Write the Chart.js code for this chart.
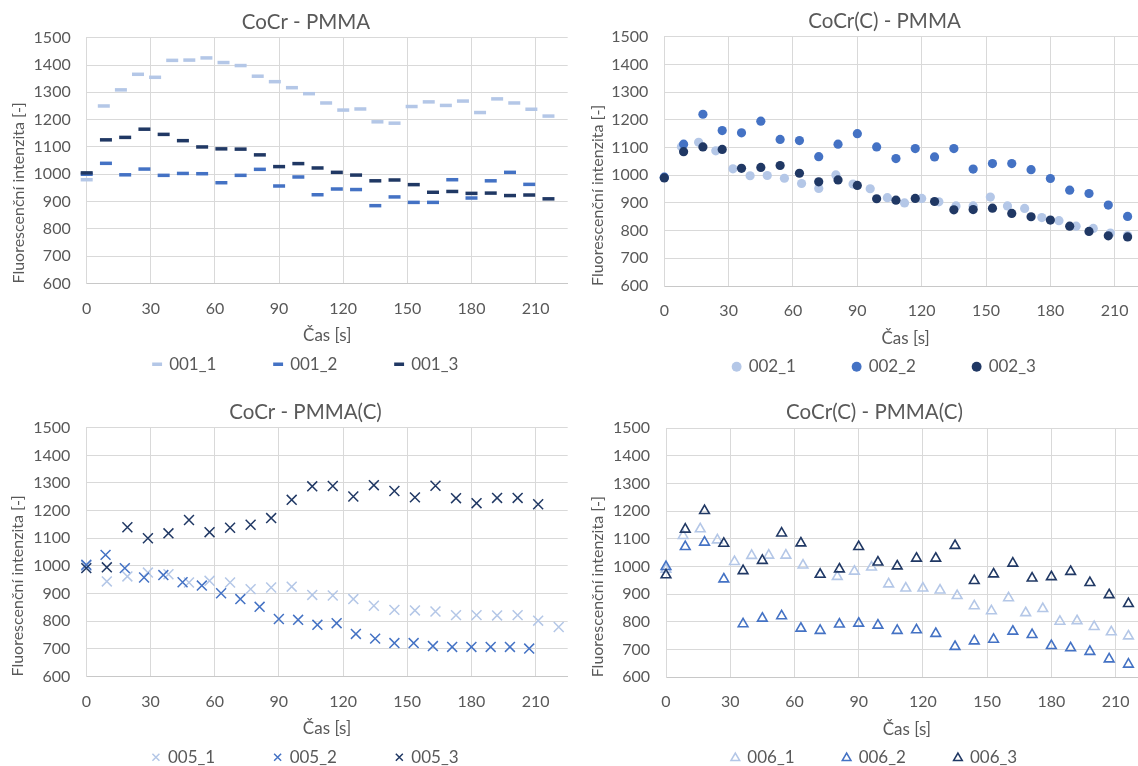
<!DOCTYPE html>
<html>
<head>
<meta charset="utf-8">
<script src="https://cdn.jsdelivr.net/npm/chart.js@4.4.1/dist/chart.umd.min.js"></script>
<style>
  html, body { margin: 0; padding: 0; background: #fff; overflow: hidden; width: 1138px; height: 766px; }
  canvas { position: absolute; }
</style>
</head>
<body>
<canvas id="g1"></canvas>
<canvas id="g2"></canvas>
<canvas id="g3"></canvas>
<canvas id="g4"></canvas>
<script>
// časy měření [s]
const cas8 = [0, 8, 16, 24, 32, 40, 48, 56, 64, 72, 80, 88, 96, 104, 112, 120, 128, 136, 144, 152, 160, 168, 176, 184, 192, 200, 208, 216];
const cas9 = [0, 9, 18, 27, 36, 45, 54, 63, 72, 81, 90, 99, 108, 117, 126, 135, 144, 153, 162, 171, 180, 189, 198, 207, 216];
const cas96 = [0, 9.6, 19.2, 28.8, 38.4, 48, 57.6, 67.2, 76.8, 86.4, 96, 105.6, 115.2, 124.8, 134.4, 144, 153.6, 163.2, 172.8, 182.4, 192, 201.6, 211.2, 220.8];

// CoCr - PMMA
const s001_1 = [980, 1250, 1309, 1366, 1355, 1417, 1418, 1426, 1409, 1398, 1359, 1339, 1317, 1295, 1261, 1235, 1239, 1192, 1187, 1248, 1265, 1252, 1268, 1226, 1276, 1261, 1238, 1213];
const s001_2 = [1000, 1040, 998, 1019, 996, 1003, 1002, 969, 996, 1018, 957, 990, 925, 946, 944, 885, 917, 897, 897, 980, 913, 976, 1007, 963];
const s001_3 = [1005, 1126, 1135, 1165, 1146, 1123, 1100, 1093, 1092, 1071, 1028, 1039, 1023, 1007, 997, 976, 979, 962, 934, 937, 930, 931, 922, 924, 910];

// CoCr(C) - PMMA
const s002_1 = [993, 1103, 1119, 1088, 1023, 998, 999, 989, 970, 952, 1001, 968, 951, 919, 900, 916, 904, 889, 889, 921, 889, 880, 847, 836, 816, 808, 791, 782];
const s002_2 = [993, 1112, 1220, 1161, 1153, 1195, 1129, 1125, 1067, 1112, 1150, 1102, 1060, 1096, 1066, 1096, 1022, 1042, 1042, 1020, 988, 946, 934, 892, 851];
const s002_3 = [990, 1085, 1102, 1093, 1025, 1028, 1035, 1007, 976, 983, 963, 915, 910, 916, 905, 875, 876, 881, 862, 850, 838, 816, 797, 781, 777];

// CoCr - PMMA(C)
const s005_1 = [1000, 944, 962, 976, 970, 940, 946, 940, 916, 922, 925, 895, 893, 880, 856, 841, 839, 835, 822, 822, 821, 822, 802, 779];
const s005_2 = [1004, 1040, 992, 958, 967, 941, 929, 901, 880, 852, 808, 805, 787, 793, 754, 737, 721, 721, 710, 707, 707, 707, 707, 701];
const s005_3 = [992, 995, 1140, 1100, 1118, 1166, 1122, 1138, 1149, 1173, 1239, 1288, 1289, 1251, 1292, 1271, 1248, 1290, 1245, 1227, 1246, 1246, 1223];

// CoCr(C) - PMMA(C)
const s006_1 = [990, 1112, 1136, 1096, 1018, 1040, 1041, 1041, 1005, 972, 964, 983, 998, 937, 922, 922, 915, 895, 858, 840, 887, 833, 848, 802, 804, 783, 764, 749];
const s006_2 = [1000, 1072, 1088, 955, 793, 813, 822, 777, 769, 792, 795, 788, 769, 771, 758, 711, 731, 737, 766, 754, 714, 706, 693, 666, 647];
const s006_3 = [970, 1135, 1202, 1084, 985, 1022, 1121, 1085, 972, 991, 1072, 1016, 1002, 1030, 1030, 1076, 949, 973, 1012, 958, 963, 982, 942, 898, 866];

const SVETLA = '#B4C7E7';
const STREDNI = '#4472C4';
const TMAVA = '#203864';
const TEXT = '#595959';
const MRIZKA = '#D9D9D9';

Chart.defaults.font.family = 'Lato';
Chart.defaults.color = TEXT;

const BOX = 7;            // velikost značky v legendě
const LEG_FONT = 17;
const TITLE_FONT = 20.5;
const TICK_OFF = 25;      // popisky osy x pod grafem
const XTITLE_OFF = 52.5;  // "Čas [s]" pod grafem
const LEGEND_OFF = 80.7;  // legenda pod grafem

const mereni = document.createElement('canvas').getContext('2d');
mereni.font = LEG_FONT + 'px Lato';

function body(casy, hodnoty) {
    return hodnoty.map((v, i) => ({ x: casy[i], y: v }));
}

function styl(znacka, barva) {
    if (znacka === 'line') return { pointStyle: 'line', pointRadius: 6, borderWidth: 3.5, borderColor: barva, backgroundColor: barva };
    if (znacka === 'circle') return { pointStyle: 'circle', pointRadius: 4.6, borderWidth: 0, borderColor: barva, backgroundColor: barva };
    if (znacka === 'crossRot') return { pointStyle: 'crossRot', pointRadius: 7, borderWidth: 1.5, borderColor: barva, backgroundColor: barva };
    return { pointStyle: 'triangle', pointRadius: 5.6, borderWidth: 1.6, borderColor: barva, backgroundColor: 'rgba(255,255,255,0)' };
}

function nakresliPanel(p) {
    const canvas = document.getElementById(p.id);

    // rozměry a polohy podle předlohy
    const itemW = BOX + LEG_FONT / 2 + mereni.measureText(p.rady[0].nazev).width;
    const legPad = p.legendSpacing - itemW;
    const legCenter = p.legendStart + 1.5 * p.legendSpacing - legPad / 2;
    const center = (p.titleCenter + legCenter) / 2;
    const left = Math.round(p.yTitleX - 9.6);
    const top = Math.round(p.plotT - 38);
    const width = Math.round(2 * (center - left));
    const hx = LEGEND_OFF - LEG_FONT / 2 - legPad;
    const legendH = LEG_FONT + legPad + 10;
    const height = Math.round(p.plotB - top + hx + legendH);
    const titleLH = TITLE_FONT * 1.2;
    const titlePadTop = (p.plotT - 15.5 - top) - titleLH / 2;
    const titlePadBottom = (p.plotT - top) - titleLH - titlePadTop;

    canvas.width = width;
    canvas.height = height;
    canvas.style.left = left + 'px';
    canvas.style.top = top + 'px';

    const barvy = [SVETLA, STREDNI, TMAVA];
    const datasets = p.rady.map((r, i) => Object.assign({
        label: r.nazev,
        data: body(r.casy, r.hodnoty),
        yAxisID: 'y',
        xAxisID: 'x',
        order: 3 - i,
        clip: false
    }, styl(p.znacka, barvy[i])));

    new Chart(canvas, {
        type: 'scatter',
        data: { datasets },
        options: {
            responsive: false,
            animation: false,
            events: [],
            layout: { padding: { bottom: height - (p.plotB - top) - hx - legendH } },
            plugins: {
                title: {
                    display: true,
                    text: p.nadpis,
                    color: TEXT,
                    font: { size: TITLE_FONT, weight: 'normal' },
                    padding: { top: titlePadTop, bottom: titlePadBottom }
                },
                legend: {
                    position: 'bottom',
                    labels: {
                        usePointStyle: true,
                        boxWidth: BOX,
                        boxHeight: BOX,
                        padding: legPad,
                        color: TEXT,
                        font: { size: LEG_FONT },
                        sort: (a, b) => a.datasetIndex - b.datasetIndex
                    }
                },
                tooltip: { enabled: false }
            },
            scales: {
                x: {
                    type: 'linear',
                    min: 0,
                    max: 225,
                    afterFit: (s) => { s.height = hx; },
                    // mirror: popisky se neořezávají nízkou osou, poloha se dorovná paddingem
                    ticks: { stepSize: 30, includeBounds: false, mirror: true, padding: -(TICK_OFF + 9.6), color: TEXT, font: { size: 16 } },
                    grid: { color: MRIZKA, drawTicks: false },
                    border: { color: '#C8C8C8' },
                    title: {
                        display: true,
                        text: 'Čas [s]',
                        color: TEXT,
                        font: { size: 17 },
                        padding: { top: 0, bottom: hx - 10.2 - XTITLE_OFF }
                    }
                },
                y: {
                    type: 'linear',
                    position: 'left',
                    min: 600,
                    max: 1500,
                    afterFit: (s) => { s.width = p.plotL - left; },
                    ticks: { stepSize: 100, padding: 16, color: TEXT, font: { size: 16 }, callback: (v) => String(v) },
                    grid: { color: MRIZKA, drawTicks: false },
                    border: { color: MRIZKA },
                    title: {
                        display: true,
                        text: 'Fluorescenční intenzita [-]',
                        align: 'start',
                        color: TEXT,
                        font: { size: 16 },
                        padding: { top: p.yTitleX - left - 9.6, bottom: 0 }
                    }
                },
                okraj: {
                    type: 'linear',
                    axis: 'y',
                    position: 'right',
                    afterFit: (s) => { s.width = left + width - p.plotR; },
                    ticks: { display: false },
                    grid: { display: false, drawTicks: false },
                    border: { display: false }
                }
            }
        }
    });
}

nakresliPanel({
    id: 'g1', nadpis: 'CoCr - PMMA', znacka: 'line',
    plotL: 86.7, plotR: 567.7, plotT: 37.7, plotB: 283.5,
    yTitleX: 18.5, titleCenter: 297, legendStart: 162.7, legendSpacing: 121,
    rady: [
        { nazev: '001_1', casy: cas8, hodnoty: s001_1 },
        { nazev: '001_2', casy: cas9, hodnoty: s001_2 },
        { nazev: '001_3', casy: cas9, hodnoty: s001_3 }
    ]
});

nakresliPanel({
    id: 'g2', nadpis: 'CoCr(C) - PMMA', znacka: 'circle',
    plotL: 664.3, plotR: 1146.9, plotT: 36.7, plotB: 286,
    yTitleX: 598, titleCenter: 877, legendStart: 741, legendSpacing: 120,
    rady: [
        { nazev: '002_1', casy: cas8, hodnoty: s002_1 },
        { nazev: '002_2', casy: cas9, hodnoty: s002_2 },
        { nazev: '002_3', casy: cas9, hodnoty: s002_3 }
    ]
});

nakresliPanel({
    id: 'g3', nadpis: 'CoCr - PMMA(C)', znacka: 'crossRot',
    plotL: 86.3, plotR: 567.7, plotT: 427.7, plotB: 676.5,
    yTitleX: 18.3, titleCenter: 297, legendStart: 161, legendSpacing: 121.7,
    rady: [
        { nazev: '005_1', casy: cas96, hodnoty: s005_1 },
        { nazev: '005_2', casy: cas9, hodnoty: s005_2 },
        { nazev: '005_3', casy: cas96, hodnoty: s005_3 }
    ]
});

nakresliPanel({
    id: 'g4', nadpis: 'CoCr(C) - PMMA(C)', znacka: 'triangle',
    plotL: 666, plotR: 1147.7, plotT: 428.3, plotB: 677.3,
    yTitleX: 598.3, titleCenter: 876.7, legendStart: 729.3, legendSpacing: 111.3,
    rady: [
        { nazev: '006_1', casy: cas8, hodnoty: s006_1 },
        { nazev: '006_2', casy: cas9, hodnoty: s006_2 },
        { nazev: '006_3', casy: cas9, hodnoty: s006_3 }
    ]
});
</script>
</body>
</html>
